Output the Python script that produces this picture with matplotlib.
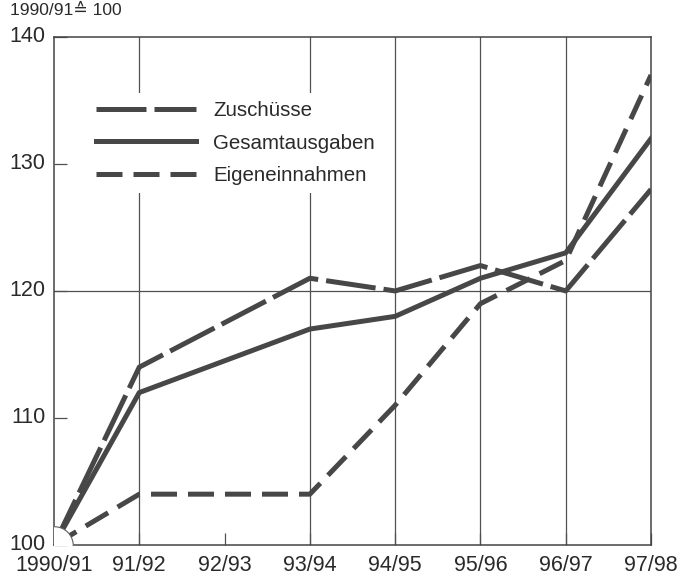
import matplotlib.pyplot as plt

plt.rcParams['font.family'] = ['Liberation Sans', 'DejaVu Sans']

# categories (1990/91 = 100)
labels = ["1990/91", "91/92", "92/93", "93/94", "94/95", "95/96", "96/97", "97/98"]
# years with data (92/93 not reported)
x_data = [0, 1, 3, 4, 5, 6, 7]
zuschuesse = [100, 114, 121, 120, 122, 120, 128]
gesamt = [100, 112, 117, 118, 121, 123, 132]
eigen = [100, 104, 104, 111, 119, 122.4, 137]

col = '#474747'
grid_col = '#505050'

fig = plt.figure(figsize=(6.8, 5.77), dpi=100)
ax = fig.add_axes([0.0794, 0.0555, 0.878, 0.8805])

# grid lines only at data years, one at 120
for xv in [1, 3, 4, 5, 6]:
    ax.axvline(xv, color=grid_col, lw=0.9, zorder=1)
ax.axhline(120, color=grid_col, lw=0.9, zorder=1)

ax.plot(x_data, zuschuesse, color=col, lw=3.6, dashes=(10, 1.6),
        solid_capstyle='butt', dash_capstyle='butt', label='Zuschüsse', zorder=3)
ax.plot(x_data, gesamt, color=col, lw=3.6, label='Gesamtausgaben', zorder=3)
ax.plot(x_data, eigen, color=col, lw=3.6, dashes=(5.2, 2.2),
        dash_capstyle='butt', label='Eigeneinnahmen', zorder=3)

# small arc around the origin
ax.plot([0], [100], marker='o', markersize=27, markerfacecolor='white',
        markeredgecolor='#606060', markeredgewidth=0.8, clip_on=True, zorder=4)

ax.set_xlim(0, 7)
ax.set_ylim(100, 140)
ax.set_xticks(range(8))
ax.set_xticklabels(labels)
ax.set_yticks([100, 110, 120, 130, 140])
ax.tick_params(direction='in', length=9, width=0.9, color=grid_col,
               labelsize=15.5, labelcolor='#2a2a2a', top=False, right=False)
ax.tick_params(axis='x', pad=7)
ax.tick_params(axis='y', pad=6)
for t in ax.get_yticklabels():
    t.set_verticalalignment('center')
for s in ax.spines.values():
    s.set_color('#444444')
    s.set_linewidth(1.1)

leg = ax.legend(loc='upper left', bbox_to_anchor=(0.057, 0.89), fontsize=14.8,
                handlelength=4.85, handletextpad=0.85, labelspacing=0.66,
                frameon=True, framealpha=1, borderpad=0.4, borderaxespad=0)
leg.get_frame().set_facecolor('white')
leg.get_frame().set_edgecolor('none')
leg.get_frame().set_boxstyle('square', pad=0)
for t in leg.get_texts():
    t.set_color('#2a2a2a')
leg.set_zorder(5)

fig.text(0.014, 0.995, "1990/91\u2259 100", fontsize=12.5, va='top', ha='left', color='#2a2a2a')

fig.savefig('out.png', dpi=100)
